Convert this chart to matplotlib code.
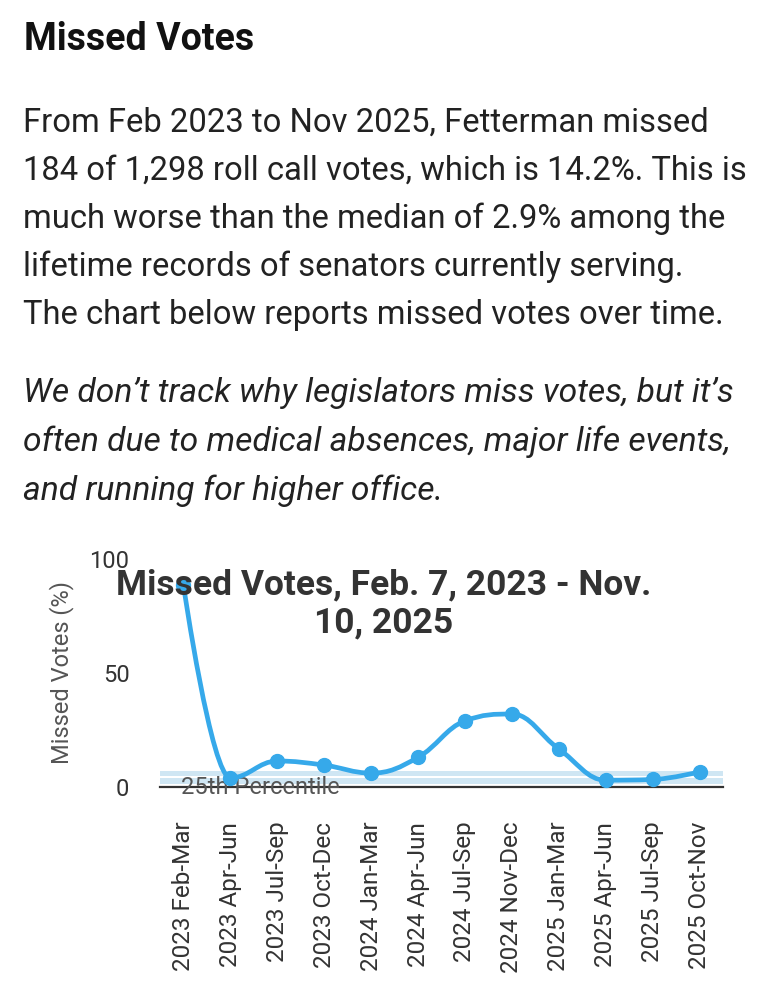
import matplotlib
matplotlib.use("Agg")
import matplotlib.pyplot as plt
from matplotlib.path import Path
from matplotlib.patches import PathPatch
import numpy as np

plt.rcParams['font.family'] = ['Roboto', 'DejaVu Sans']

# ---------------- data ----------------
periods = ["2023 Feb-Mar", "2023 Apr-Jun", "2023 Jul-Sep", "2023 Oct-Dec",
           "2024 Jan-Mar", "2024 Apr-Jun", "2024 Jul-Sep", "2024 Nov-Dec",
           "2025 Jan-Mar", "2025 Apr-Jun", "2025 Jul-Sep", "2025 Oct-Nov"]
missed_pct = [88.5, 4.0, 11.4, 9.6, 6.1, 13.0, 29.0, 32.0, 16.7, 3.0, 3.3, 6.6]
band_low = [1.3, 4.8]
band_high = [4.0, 7.0]
yticks = [0, 50, 100]
percentile_label = "25th Percentile"

heading = "Missed Votes"
para_lines = ["From Feb 2023 to Nov 2025, Fetterman missed",
              "184 of 1,298 roll call votes, which is 14.2%. This is",
              "much worse than the median of 2.9% among the",
              "lifetime records of senators currently serving.",
              "The chart below reports missed votes over time."]
italic_lines = ["We don\u2019t track why legislators miss votes, but it\u2019s",
                "often due to medical absences, major life events,",
                "and running for higher office."]
chart_title = "Missed Votes, Feb. 7, 2023 - Nov.\n10, 2025"
ylabel = "Missed Votes (%)"

W, H = 767, 1000
fig = plt.figure(figsize=(W / 100, H / 100), dpi=100)
fig.patch.set_facecolor("white")

def fy(py):
    return 1 - py / H

def fx(px):
    return px / W

# ---------------- page text ----------------
fig.text(fx(24), fy(39), heading, fontsize=27, fontweight="bold",
         color="#111111", va="center", ha="left")
for i, line in enumerate(para_lines):
    fig.text(fx(23), fy(123 + i * 48), line, fontsize=23.6, color="#222222",
             va="center", ha="left")
for i, line in enumerate(italic_lines):
    fig.text(fx(23), fy(393 + i * 49), line, fontsize=24.2, style="italic",
             color="#222222", va="center", ha="left")

# ---------------- chart ----------------
ax_left, ax_right = 160, 723
ax_bottom, ax_top = 787, 559
ax_w = ax_right - ax_left
ax = fig.add_axes([fx(ax_left), fy(ax_bottom), ax_w / W,
                   (ax_bottom - ax_top) / H])
ax.set_xlim(-0.5, len(periods) - 0.5)
ax.set_ylim(0, 100)
for s in ax.spines.values():
    s.set_visible(False)
ax.patch.set_alpha(0)

for lo, hi in zip(band_low, band_high):
    ax.axhspan(lo, hi, color="#cfe6f3", zorder=1, lw=0)

ax.axhline(0, color="#333333", lw=1.6, zorder=2, clip_on=False)

# Highcharts-like spline through the data points
x = np.arange(len(missed_pct), dtype=float)
y = np.array(missed_pct, dtype=float)
sm = 1.5
den = sm + 1
n = len(x)
lc = [(x[i], y[i]) for i in range(n)]
rc = [(x[i], y[i]) for i in range(n)]
for i in range(1, n - 1):
    lx = (sm * x[i] + x[i - 1]) / den
    ly = (sm * y[i] + y[i - 1]) / den
    rx = (sm * x[i] + x[i + 1]) / den
    ry = (sm * y[i] + y[i + 1]) / den
    corr = (ry - ly) * (rx - x[i]) / (rx - lx) + y[i] - ry
    ly += corr
    ry += corr
    if ly > y[i - 1] and ly > y[i]:
        ly = max(y[i - 1], y[i]); ry = 2 * y[i] - ly
    elif ly < y[i - 1] and ly < y[i]:
        ly = min(y[i - 1], y[i]); ry = 2 * y[i] - ly
    if ry > y[i + 1] and ry > y[i]:
        ry = max(y[i + 1], y[i]); ly = 2 * y[i] - ry
    elif ry < y[i + 1] and ry < y[i]:
        ry = min(y[i + 1], y[i]); ly = 2 * y[i] - ry
    lc[i] = (lx, ly)
    rc[i] = (rx, ry)
verts = [(x[0], y[0])]
codes = [Path.MOVETO]
for i in range(1, n):
    verts += [rc[i - 1], lc[i], (x[i], y[i])]
    codes += [Path.CURVE4] * 3
line_color = "#36a9ea"
ax.add_patch(PathPatch(Path(verts, codes), fill=False, edgecolor=line_color,
                       lw=3.4, zorder=3, capstyle="round", joinstyle="round",
                       clip_on=False))
ax.plot(x, y, "o", color=line_color, ms=10, zorder=4, clip_on=False)

ax.set_yticks(yticks)
ax.set_yticklabels([str(t) for t in yticks], fontsize=17, color="#333333")
ax.tick_params(axis="y", length=0, pad=22)
ax.set_xticks(x)
ax.set_xticklabels(periods, rotation=90, fontsize=17.5, color="#333333",
                   va="top", ha="center")
ax.tick_params(axis="x", length=0, pad=25)
ax.set_ylabel(ylabel, fontsize=17, color="#555555")
ax.yaxis.set_label_coords((74 - ax_left) / ax_w, 0.5)

ax.text((181 - ax_left) / ax_w, 0, percentile_label,
        transform=ax.get_yaxis_transform(),
        fontsize=17, color="#555555", va="center", ha="left", zorder=2)

fig.text(fx(384), fy(604), chart_title, fontsize=25.5, fontweight="bold",
         color="#333333", ha="center", va="center", linespacing=1.18,
         zorder=10)

fig.savefig("out.png", dpi=100, facecolor="white")
